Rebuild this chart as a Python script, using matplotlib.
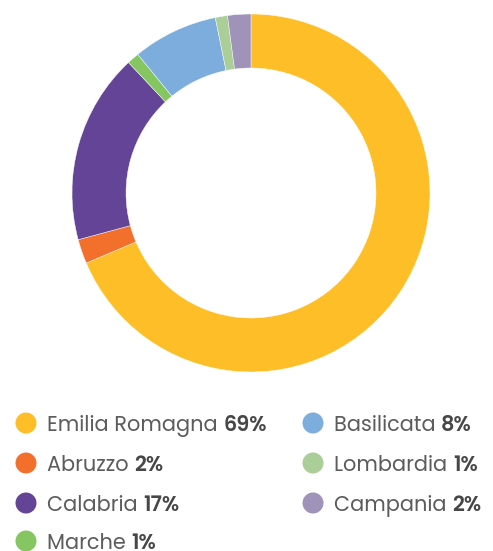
import matplotlib
matplotlib.use("Agg")
import matplotlib.pyplot as plt
from matplotlib.patches import Circle

regions = ["Emilia Romagna", "Abruzzo", "Calabria", "Marche", "Basilicata", "Lombardia", "Campania"]
values = [68.6, 2.2, 17.2, 1.1, 7.7, 1.1, 2.1]
labels_pct = ["69%", "2%", "17%", "1%", "8%", "1%", "2%"]
colors = ["#FEBE27", "#F2702B", "#634497", "#86C662", "#7DADDC", "#ABCD98", "#9F93BA"]

legend_order = ["Emilia Romagna", "Abruzzo", "Calabria", "Marche", "Basilicata", "Lombardia", "Campania"]

W, H = 493, 551
fig = plt.figure(figsize=(W / 100, H / 100), dpi=100)
ax = fig.add_axes([0, 0, 1, 1])

ax.pie(values, colors=colors, startangle=90, counterclock=False, center=(251, H - 193),
       radius=179, wedgeprops=dict(width=54, linewidth=0.3, edgecolor="white"), frame=True)
ax.set_xlim(0, W)
ax.set_ylim(0, H)
ax.set_aspect("equal")
ax.axis("off")

fam = ["Poppins", "DejaVu Sans"]
fig.canvas.draw()
renderer = fig.canvas.get_renderer()
col_x = [26, 313]
row_y = [423, 463, 503, 541]
for i, name in enumerate(legend_order):
    idx = regions.index(name)
    if i < 4:
        cx, cy = col_x[0], row_y[i]
    else:
        cx, cy = col_x[1], row_y[i - 4]
    ax.add_patch(Circle((cx, H - cy), 10.5, color=colors[idx], lw=0))
    t = ax.text(cx + 21, H - cy, name + " ", fontsize=15, color="#5c5c5c", va="center_baseline",
                ha="left", family=fam, fontweight="normal")
    fig.canvas.draw()
    bb = t.get_window_extent(renderer)
    ax.text(bb.x1, H - cy, labels_pct[idx], fontsize=15, color="#474747", va="center_baseline",
            ha="left", fontweight="semibold", family=fam)

fig.savefig("out.png", dpi=100)
